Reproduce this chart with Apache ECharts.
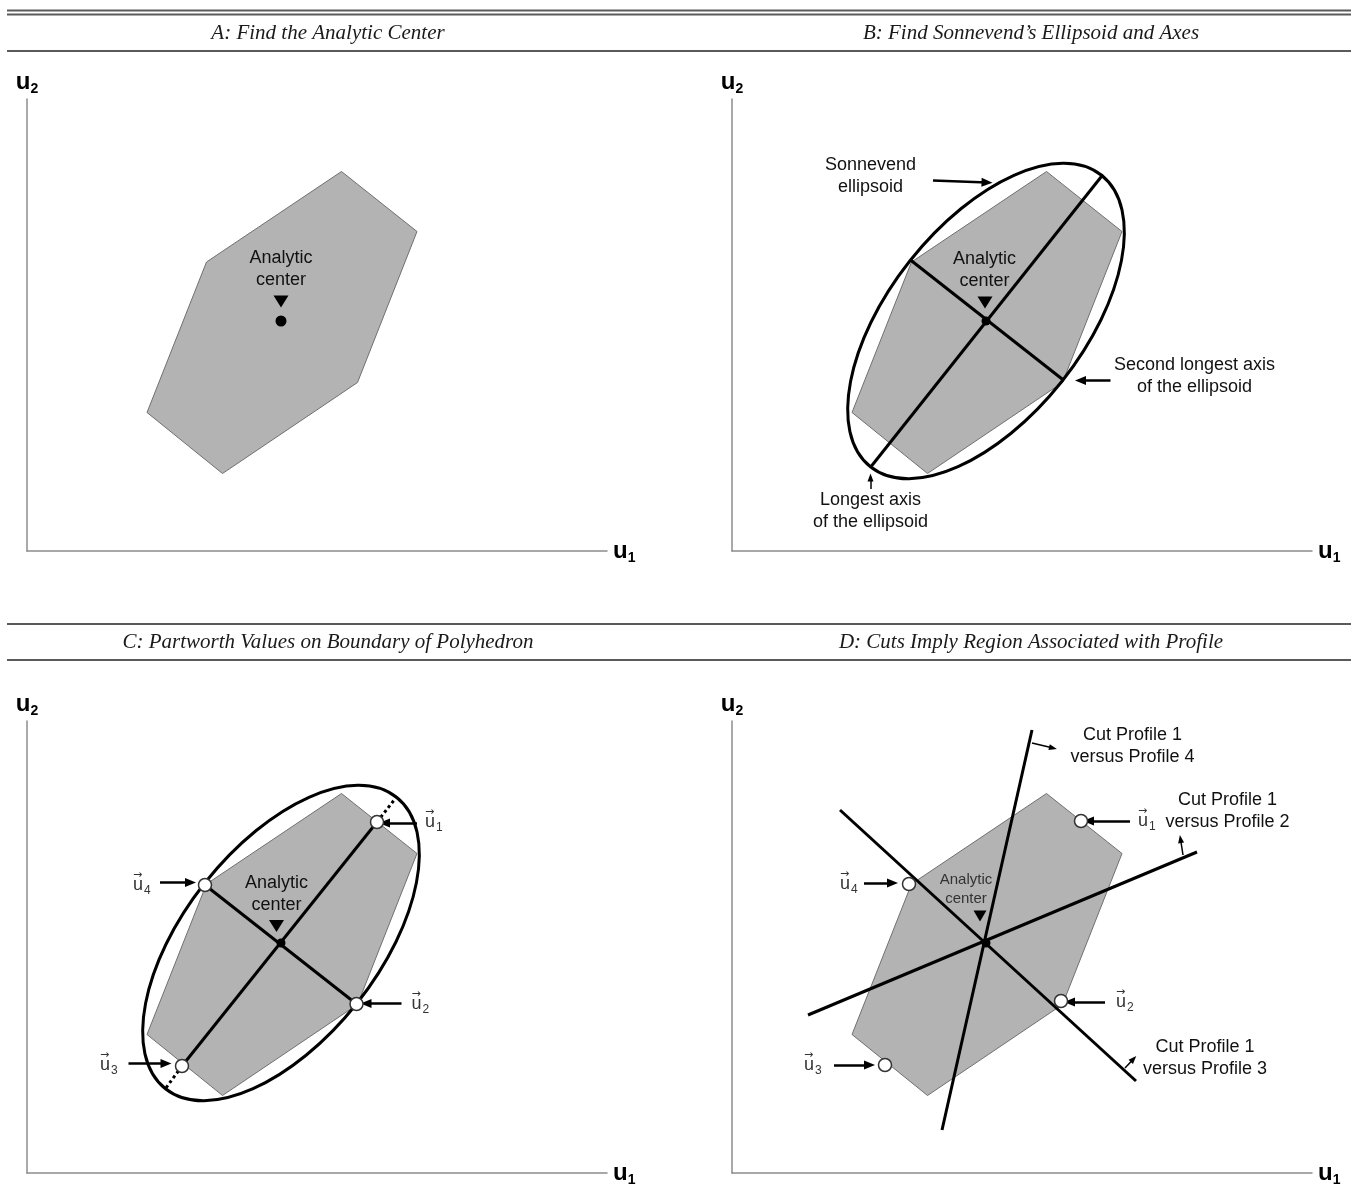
<!DOCTYPE html>
<html><head><meta charset="utf-8">
<script src="https://cdn.jsdelivr.net/npm/echarts@6/dist/echarts.min.js"></script>
<style>html,body{margin:0;padding:0;background:#fff}#c{width:1351px;height:1201px}</style>
</head><body><div id="c"></div>
<script>
// ---------- data (u1, u2 units) ----------
const panelTitles = ['A: Find the Analytic Center', 'B: Find Sonnevend\u2019s Ellipsoid and Axes',
  'C: Partworth Values on Boundary of Polyhedron', 'D: Cuts Imply Region Associated with Profile'];
const u1Range = [0, 116];
const u2Range = [0, 90.4];
const polygon = [[62.9, 75.9], [78.0, 63.9], [66.1, 33.7], [39.1, 15.5], [24.0, 27.7], [35.9, 57.8]];
const analyticCenter = [50.8, 46.0];
const ellipseCenter = [50.8, 46.0];
const ellipseSemiAxes = [37.2, 19.4];
const ellipseAngleDeg = 51.6;
// panel B
const majorAxisB = [[27.9, 17.0], [74.2, 75.3]];
const minorAxisB = [[35.7, 58.2], [66.4, 34.1]];
const arrowsB = [[[40.2, 74.1], [51.0, 73.7]], [[75.7, 34.1], [69.7, 34.1]]];
const thinArrowsB = [[[27.7, 12.4], [27.7, 14.7]]];
const textsA = [[50.8, 56.3, 'Analytic\ncenter']];
const textsB = [[27.7, 74.9, 'Sonnevend\nellipsoid'], [50.5, 56.2, 'Analytic\ncenter'],
  [92.5, 35.0, 'Second longest axis\nof the ellipsoid'], [27.7, 8.0, 'Longest axis\nof the ellipsoid']];
// panel C
const pointsC = [[70.0, 70.2], [65.9, 33.8], [31.0, 21.4], [35.6, 57.6]];   // u1..u4
const majorAxisC = [[31.0, 21.4], [70.0, 70.2]];
const minorAxisC = [[35.6, 57.6], [65.9, 33.8]];
const dottedC = [[[70.0, 70.2], [73.9, 75.2]], [[31.0, 21.4], [27.7, 16.9]]];
const arrowsC = [[[78.0, 70.0], [71.5, 70.0]], [[74.9, 33.9], [67.8, 33.9]], [[20.3, 21.9], [27.8, 21.9]], [[26.6, 58.1], [32.7, 58.1]]];
const vecLabelsC = [[79.6, 70.2, '1'], [76.9, 33.8, '2'], [14.6, 21.6, '3'], [21.2, 57.6, '4']];
const textsC = [[49.9, 55.8, 'Analytic\ncenter']];
// panel D
const cutLines = [[[42.0, 8.6], [60.0, 88.6]], [[15.2, 31.6], [93.0, 64.2]], [[21.6, 72.6], [80.8, 18.4]]];
const cutArrows = [[[60.0, 86.0], [64.2, 85.0]], [[90.2, 63.6], [89.7, 66.8]], [[78.6, 21.0], [80.3, 22.8]]];
const pointsD = [[69.8, 70.4], [65.8, 34.4], [30.6, 21.6], [35.4, 57.8]];
const arrowsD = [[[79.6, 70.4], [71.3, 70.4]], [[74.6, 34.2], [67.5, 34.2]], [[20.4, 21.6], [27.5, 21.6]], [[26.4, 58.0], [32.1, 58.0]]];
const vecLabelsD = [[81.2, 70.4, '1'], [76.8, 34.2, '2'], [14.4, 21.6, '3'], [21.6, 57.8, '4']];
const textsD = [[80.1, 85.4, 'Cut Profile 1\nversus Profile 4'], [99.1, 72.3, 'Cut Profile 1\nversus Profile 2'],
  [94.6, 22.9, 'Cut Profile 1\nversus Profile 3']];
const textsDsmall = [[46.8, 56.7, 'Analytic\ncenter']];
const triangles = [[50.8, 49.9], [50.6, 49.7], [49.9, 49.4], [49.6, 51.4]];

// ---------- builders ----------
const SANS = '"Liberation Sans", Arial, sans-serif';
function ax(i) { return { xAxisIndex: i, yAxisIndex: i, animation: false, silent: true }; }

function polygonSeries(i) {
  return Object.assign(ax(i), {
    type: 'custom', z: 1, data: [polygon[0]],
    renderItem: (params, api) => ({
      type: 'polygon', shape: { points: polygon.map(p => api.coord(p)) },
      style: { fill: '#b3b3b3', stroke: '#707070', lineWidth: 1 }
    })
  });
}
function ellipseSeries(i) {
  return Object.assign(ax(i), {
    type: 'custom', z: 3, data: [ellipseCenter],
    renderItem: (params, api) => {
      const c = api.coord([api.value(0), api.value(1)]);
      const s = api.size(ellipseSemiAxes);
      return { type: 'ellipse', x: c[0], y: c[1], rotation: ellipseAngleDeg * Math.PI / 180,
        shape: { cx: 0, cy: 0, rx: s[0], ry: s[1] },
        style: { fill: 'none', stroke: '#000', lineWidth: 3 } };
    }
  });
}
function segSeries(i, seg, opts) {
  return Object.assign(ax(i), {
    type: 'line', z: 3, data: seg, symbol: 'none',
    lineStyle: Object.assign({ color: '#000', width: 3 }, opts || {})
  });
}
function arrowSeries(i, arrows, width, size) {
  return Object.assign(ax(i), {
    type: 'line', z: 4, data: [],
    markLine: {
      silent: true, animation: false, symbol: ['none', 'triangle'], symbolSize: size,
      label: { show: false }, lineStyle: { color: '#000', width: width, type: 'solid' },
      emphasis: { disabled: true },
      data: arrows.map(a => [{ coord: a[0] }, { coord: a[1] }])
    }
  });
}
function scatterSeries(i, pts, sym, size, style, rot) {
  return Object.assign(ax(i), {
    type: 'scatter', z: 5, data: pts, symbol: sym, symbolSize: size, symbolRotate: rot || 0,
    itemStyle: Object.assign({ opacity: 1 }, style)
  });
}
function textSeries(i, items, fontSize, lineHeight, color) {
  return Object.assign(ax(i), {
    type: 'custom', z: 6, data: items.map(d => [d[0], d[1]]),
    renderItem: (params, api) => {
      const it = items[params.dataIndex];
      const p = api.coord([api.value(0), api.value(1)]);
      return { type: 'text', x: p[0], y: p[1],
        style: { text: it[2], align: 'center', verticalAlign: 'middle', fontSize: fontSize,
          fontFamily: SANS, lineHeight: lineHeight, fill: color } };
    }
  });
}
function vecLabelSeries(i, items) {
  return Object.assign(ax(i), {
    type: 'custom', z: 6, data: items.map(d => [d[0], d[1]]),
    renderItem: (params, api) => {
      const it = items[params.dataIndex];
      const p = api.coord([api.value(0), api.value(1)]);
      return { type: 'text', x: p[0], y: p[1] - 1.5,
        style: { text: '{a|\u2192}\n{u|u}{s|' + it[2] + '}', align: 'left', verticalAlign: 'middle',
          rich: { a: { fontSize: 11, fontFamily: '"DejaVu Sans", sans-serif', lineHeight: 3, fill: '#333' },
                  u: { fontSize: 18, fontFamily: SANS, lineHeight: 16, fill: '#333' },
                  s: { fontSize: 12, fontFamily: SANS, lineHeight: 2, verticalAlign: 'top', padding: [8, 0, 0, 1], fill: '#333' } } } };
    }
  });
}

const grids = [
  { left: 27, top: 99, width: 580, height: 452 },
  { left: 732, top: 99, width: 580, height: 452 },
  { left: 27, top: 721, width: 580, height: 452 },
  { left: 732, top: 721, width: 580, height: 452 }
];
const nameRich = {
  u: { fontSize: 24, fontWeight: 'bold', fontFamily: SANS, lineHeight: 26, color: '#000' },
  s: { fontSize: 14, fontWeight: 'bold', fontFamily: SANS, lineHeight: 8, verticalAlign: 'top', padding: [13, 0, 0, 0], color: '#000' }
};
const axisCommon = {
  type: 'value', axisTick: { show: false }, axisLabel: { show: false }, splitLine: { show: false },
  axisLine: { show: true, lineStyle: { color: '#8c8c8c', width: 1.5 } }, nameLocation: 'end',
  nameTextStyle: { rich: nameRich }
};
const xAxes = grids.map((g, i) => Object.assign({}, axisCommon, { gridIndex: i, min: u1Range[0], max: u1Range[1], name: '{u|u}{s|1}', nameGap: 6 }));
const yAxes = grids.map((g, i) => Object.assign({}, axisCommon, { gridIndex: i, min: u2Range[0], max: u2Range[1], name: '{u|u}{s|2}', nameGap: 4 }));

const black = { color: '#000' };
const openCircle = { color: '#fff', borderColor: '#333', borderWidth: 1.5 };

const series = [];
// A
series.push(polygonSeries(0), textSeries(0, textsA, 18, 22, '#111'),
  scatterSeries(0, [triangles[0]], 'triangle', [15, 12], black, 180),
  scatterSeries(0, [analyticCenter], 'circle', 11, black));
// B
series.push(polygonSeries(1), ellipseSeries(1), segSeries(1, majorAxisB), segSeries(1, minorAxisB),
  arrowSeries(1, arrowsB, 2.5, [9, 11]), arrowSeries(1, thinArrowsB, 1.5, [6, 8]),
  textSeries(1, textsB, 18, 22, '#111'),
  scatterSeries(1, [triangles[1]], 'triangle', [15, 12], black, 180),
  scatterSeries(1, [analyticCenter], 'circle', 9, black));
// C
series.push(polygonSeries(2), ellipseSeries(2), segSeries(2, majorAxisC), segSeries(2, minorAxisC));
dottedC.forEach(d => series.push(segSeries(2, d, { type: [3, 3] })));
series.push(arrowSeries(2, arrowsC, 2.5, [9, 11]), vecLabelSeries(2, vecLabelsC),
  textSeries(2, textsC, 18, 22, '#111'),
  scatterSeries(2, [triangles[2]], 'triangle', [15, 12], black, 180),
  scatterSeries(2, [analyticCenter], 'circle', 9, black),
  scatterSeries(2, pointsC, 'circle', 13, openCircle));
// D
series.push(polygonSeries(3));
cutLines.forEach(l => series.push(segSeries(3, l)));
series.push(arrowSeries(3, cutArrows, 1.5, [6, 8]), arrowSeries(3, arrowsD, 2.5, [9, 11]),
  vecLabelSeries(3, vecLabelsD), textSeries(3, textsD, 18, 22, '#111'),
  textSeries(3, textsDsmall, 15, 19, '#333'),
  scatterSeries(3, [triangles[3]], 'triangle', [13, 11], black, 180),
  scatterSeries(3, [analyticCenter], 'circle', 9, black),
  scatterSeries(3, pointsD, 'circle', 13, openCircle));

// page furniture: rules and panel titles
const ruleStyle = { stroke: '#5a5a5a', lineWidth: 2 };
const rules = [10.5, 14.5, 51, 624, 660].map(y => ({ type: 'line', shape: { x1: 7, y1: y, x2: 1351, y2: y }, style: ruleStyle, silent: true }));
const titlePos = [[328, 33], [1031, 33], [328, 642], [1031, 642]];
const titles = panelTitles.map((t, i) => ({ type: 'text', x: titlePos[i][0], y: titlePos[i][1], silent: true,
  style: { text: t, align: 'center', verticalAlign: 'middle', font: 'italic 21px "Liberation Serif", "Times New Roman", serif', fill: '#1a1a1a' } }));

const chart = echarts.init(document.getElementById('c'), null, { renderer: 'canvas' });
chart.setOption({
  animation: false, backgroundColor: '#fff',
  grid: grids, xAxis: xAxes, yAxis: yAxes, series: series,
  graphic: rules.concat(titles)
});
</script></body></html>
